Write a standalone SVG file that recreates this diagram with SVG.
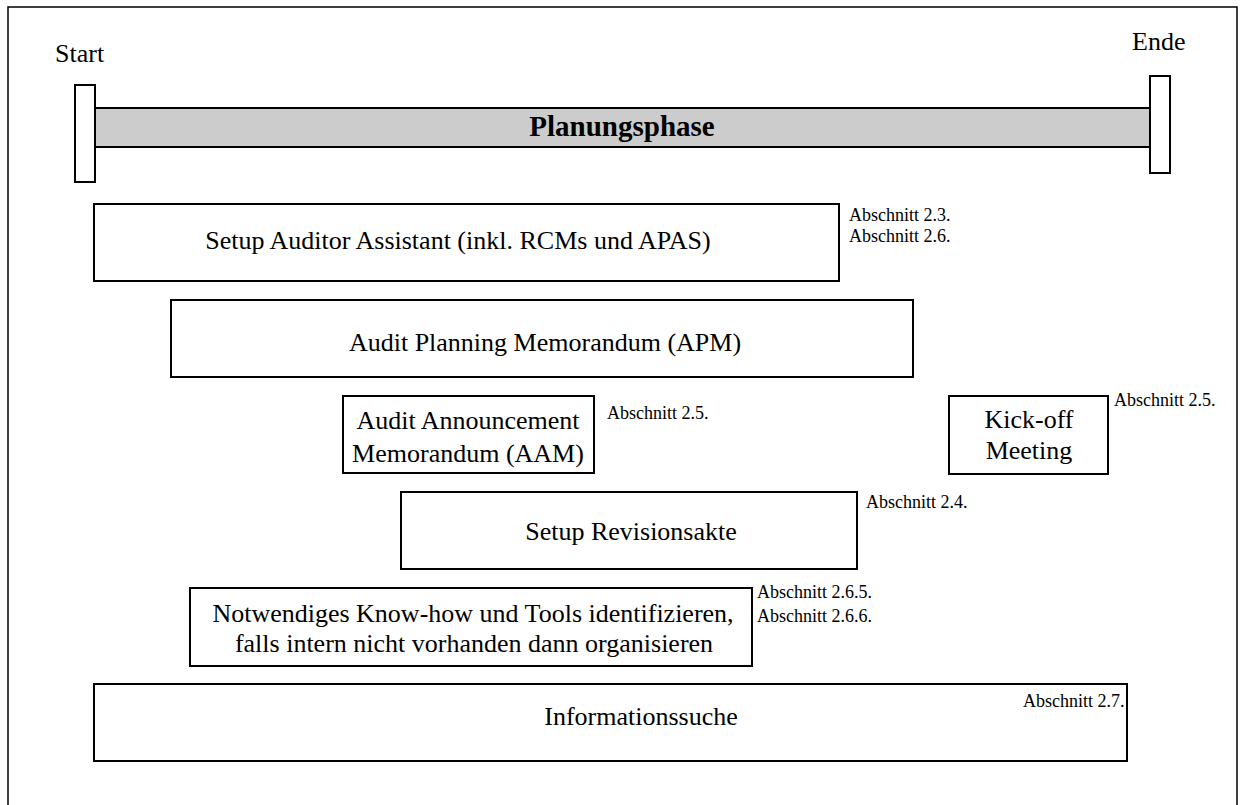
<svg xmlns="http://www.w3.org/2000/svg" width="1240" height="805" viewBox="0 0 1240 805">
<style>
.box{fill:#fff;stroke:#000;stroke-width:2}
.t{font-family:"Liberation Serif","Times New Roman",serif;font-size:26px;fill:#000;text-anchor:middle}
.s{font-family:"Liberation Serif","Times New Roman",serif;font-size:18px;fill:#000}
.b{font-family:"Liberation Serif","Times New Roman",serif;font-size:29px;font-weight:bold;fill:#000;text-anchor:middle}
</style>
<rect x="0" y="0" width="1240" height="805" fill="#fff"/>
<rect x="8" y="7" width="1229" height="810" fill="none" stroke="#000" stroke-width="1.5"/>
<g id="timeline">
<text class="t" x="55" y="62" style="text-anchor:start">Start</text>
<text class="t" x="1132" y="50" style="text-anchor:start">Ende</text>
<rect x="95" y="108" width="1055" height="39" fill="#cccccc" stroke="#000" stroke-width="2"/>
<rect class="box" x="75" y="85" width="20" height="97"/>
<rect class="box" x="1150" y="76" width="20" height="97"/>
<text class="b" x="622" y="136">Planungsphase</text>
</g>
<g id="setup-aa">
<rect class="box" x="94" y="204" width="745" height="77"/>
<text class="t" x="458" y="249">Setup Auditor Assistant (inkl. RCMs und APAS)</text>
<text class="s" x="849" y="221">Abschnitt 2.3.</text>
<text class="s" x="849" y="242">Abschnitt 2.6.</text>
</g>
<g id="apm">
<rect class="box" x="171" y="300" width="742" height="77"/>
<text class="t" x="545" y="351">Audit Planning Memorandum (APM)</text>
</g>
<g id="aam">
<rect class="box" x="343" y="396" width="251" height="77"/>
<text class="t" x="468" y="429">Audit Announcement</text>
<text class="t" x="468" y="462">Memorandum (AAM)</text>
<text class="s" x="607" y="419">Abschnitt 2.5.</text>
</g>
<g id="kickoff">
<rect class="box" x="949" y="396" width="159" height="78"/>
<text class="t" x="1029" y="428">Kick-off</text>
<text class="t" x="1029" y="459">Meeting</text>
<text class="s" x="1114" y="406">Abschnitt 2.5.</text>
</g>
<g id="revisionsakte">
<rect class="box" x="401" y="492" width="456" height="77"/>
<text class="t" x="631" y="540">Setup Revisionsakte</text>
<text class="s" x="866" y="508">Abschnitt 2.4.</text>
</g>
<g id="knowhow">
<rect class="box" x="190" y="588" width="562" height="78"/>
<text class="t" x="473" y="622">Notwendiges Know-how und Tools identifizieren,</text>
<text class="t" x="474" y="652">falls intern nicht vorhanden dann organisieren</text>
<text class="s" x="757" y="598">Abschnitt 2.6.5.</text>
<text class="s" x="757" y="622">Abschnitt 2.6.6.</text>
</g>
<g id="info">
<rect class="box" x="94" y="684" width="1033" height="77"/>
<text class="t" x="641" y="725">Informationssuche</text>
<text class="s" x="1023" y="707">Abschnitt 2.7.</text>
</g>
<g id="connectors"></g>
</svg>
